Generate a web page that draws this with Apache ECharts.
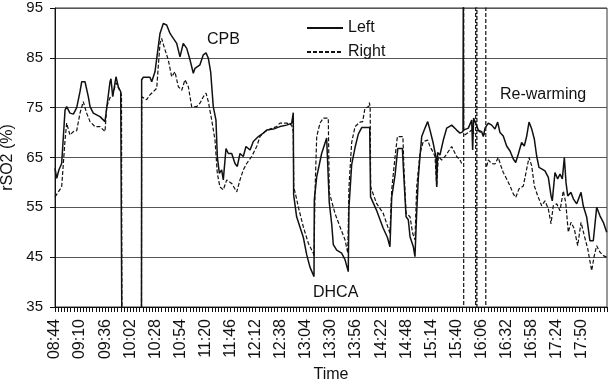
<!DOCTYPE html>
<html>
<head>
<meta charset="utf-8">
<script src="https://cdn.jsdelivr.net/npm/echarts@6/dist/echarts.min.js"></script>
<style>
html,body{margin:0;padding:0;background:#fff;}
#c{width:608px;height:384px;}
</style>
</head>
<body>
<div id="c"></div>
<script>
// Elapsed minutes after 08:44, rSO2 (%)
const tickLabels = ['08:44','09:10','09:36','10:02','10:28','10:54','11:20','11:46','12:12','12:38','13:04','13:30','13:56','14:22','14:48','15:14','15:40','16:06','16:32','16:58','17:24','17:50'];
const legendNames = ['Left', 'Right'];
const annotations = ['CPB', 'DHCA', 'Re-warming'];

const leftReadings = [[0,62.8],[1.8,60.8],[4,62.5],[6.9,63.8],[10.4,74.5],[12.1,75.2],[15.5,73.9],[19,73.7],[22.5,75],[25.9,78.2],[27.7,80.2],[31.1,80.2],[34.5,77.2],[36.3,75.2],[39.7,73.9],[46.6,73.2],[51.8,72.2],[53.6,71.9],[57,80.2],[58,80.8],[59.8,77.2],[63.2,81.2],[65.6,79.2],[68.1,78.2],[68.9,78],[69.3,30],[69.5,null],[89.6,30],[89.8,80.6],[91.5,81.1],[98.4,81.1],[100.2,80.2],[103.6,82.2],[105.4,82.2],[107,87.2],[108.8,89.9],[112.2,91.9],[115.7,91.6],[119.2,89.9],[122.6,88.9],[126.1,87.9],[129.5,85.2],[132.9,87.9],[136.5,86.9],[139.9,84.6],[143.3,81.9],[145.1,82.9],[150.2,83.6],[153.7,85.6],[156.5,86],[158.9,84.9],[161.3,82.2],[164,75.2],[166.8,72.5],[168.2,65.2],[170.3,61.8],[172.7,62.5],[174.4,60.5],[177.2,66.8],[179.6,65.8],[183.1,65.8],[186.5,63.8],[188.9,63.2],[191.7,65.8],[195.1,65.2],[197.9,67.2],[202.1,66.5],[205.5,68.2],[210.7,69.2],[215.8,69.9],[219.4,70.5],[226.2,70.7],[233.1,71.2],[240.1,71.5],[245.3,71.9],[246.9,74],[247.3,57.5],[250.4,53.1],[253.9,51],[257.3,49],[260.8,45.5],[264.2,43],[268.4,41.1],[268.7,56.5],[271.2,61.1],[276.3,65.8],[281.5,68.9],[283.2,68.9],[284.2,56],[286.8,51.5],[288.4,47.5],[291.9,46.4],[297,45.8],[300.5,44.5],[303.9,42.1],[304.6,55],[307.4,63.5],[310.9,67],[314.3,69.7],[317.8,71],[326.1,71],[327,57.1],[333,54.5],[340.1,50.8],[344.4,49],[347.1,47.1],[348.9,57],[352.4,61.5],[355.2,66.8],[360,66.8],[361.1,62.5],[363.8,53.1],[366.1,52.5],[367.9,49.1],[371.3,47.1],[373,45.1],[374.8,54],[376.5,61],[378.2,65.2],[380,69.2],[383.4,70.9],[386.2,72.2],[388.6,70.5],[392,67.8],[394.8,65],[395.5,59.1],[396.5,66],[398.9,65.5],[402.4,68.5],[405.9,70.9],[411.1,71.5],[416.2,70.5],[419.7,69.9],[422.8,70.2],[423.1,100],[423.3,70.5],[424.9,70.5],[428.3,70.9],[431.8,72.5],[432.8,66.5],[433.8,72.9],[435.2,72.9],[438.6,70.5],[442.1,70.2],[443.8,69.2],[445.6,70.9],[447.3,71.2],[449,71.9],[452.5,71.5],[455.9,70.7],[458.7,72.1],[461.1,70],[464.5,69.3],[468,67.3],[471.5,66.3],[474.9,64.7],[477.4,64],[480.1,65.7],[483.5,68],[486.3,67.3],[488.8,69.3],[491.2,72.1],[494,70.7],[496.7,68.7],[499.1,65.3],[501.5,63],[504.3,62.7],[507.7,62.3],[511.2,61],[514,57.3],[515.3,56.3],[518.1,62],[520.9,60.7],[523.3,61.7],[525.7,60.7],[527.8,65],[529.5,60],[531.3,57.3],[534.7,58],[537.1,56.7],[540.6,55.7],[545.1,58],[547.4,55.3],[551,53],[554.3,48.3],[557.8,48.3],[561.3,55],[564.7,53.3],[568.2,52],[571.7,50]];

const rightReadings = [[0,57.1],[2,57.5],[6.9,59.1],[10.4,68.5],[12.1,71.9],[15.5,69.5],[19,70.2],[22.5,70.4],[25.9,73.9],[29.3,76.2],[32.8,73.9],[36.3,72.2],[41.4,71.2],[46.6,71.2],[51.8,70.2],[53.6,75.2],[57,77],[59.8,77.5],[63.2,80],[65.6,79],[68.1,78],[68.9,77.5],[69.3,30],[69.5,null],[89.6,30],[89.8,77.2],[91.5,77],[95,76.6],[98.4,77.6],[101.9,78.2],[105.4,78.9],[107,83.2],[108.8,87.9],[110.5,88.9],[114,86.6],[117.4,84.6],[120.9,81.2],[124.3,82.2],[127.8,79.2],[131.3,78.5],[134.7,80.6],[138.2,79.2],[141.6,75.2],[146.8,75.2],[150.2,75.9],[153.7,77.2],[156.5,77.9],[158.9,76.2],[162.4,72.5],[165.8,68.5],[168.2,61.8],[170.9,59.1],[174.4,58.5],[177.9,60.5],[183.1,59.8],[188.3,58.1],[191.7,60.5],[195.1,62.5],[198.6,63.8],[203.8,65.2],[209,67.2],[212.4,69.2],[217.6,70.2],[222.8,70.7],[229.7,71.2],[233.1,71.9],[240.1,71.9],[245.3,71.5],[246.9,70.2],[247.4,59.1],[250,57],[252.1,55.1],[257.3,51.1],[262.5,47.8],[267.7,45.8],[268.4,45.2],[269.5,58.5],[271.2,69.2],[274.6,71.9],[278,72.9],[283.2,72.9],[284.2,58],[290.1,53.8],[295.3,51.1],[300.5,48.5],[303.4,45.8],[304.6,59],[307.4,68],[310.9,71.2],[316,72.1],[318.8,72.2],[321.2,74.9],[325,75.2],[325.8,76],[326.6,75],[327.1,59.1],[333.2,55.8],[340.1,53.8],[347.1,49.8],[348.9,58.5],[352.4,65.2],[354.8,69.2],[360.5,69.2],[361.5,63.2],[363.8,53.8],[367.9,53.1],[370.6,49.8],[373,48.5],[374.8,59.1],[378.2,65.8],[381.6,68.2],[386.2,68.5],[388.6,67.2],[392,66],[393.8,65.2],[395.5,59.1],[397.2,65.2],[400.7,64.5],[404.1,65.2],[407.6,66.2],[411.1,67.2],[412.8,67.2],[416.2,65.2],[419.7,64.5],[421.4,63.8],[423,null],[423.5,100],[423.5,30],[423.9,null],[424.5,69.5],[428.3,70],[431.8,70.5],[434.5,69.8],[435.2,null],[435.9,100],[435.9,30],[436.3,null],[437.2,30],[437.2,100],[437.4,null],[437.9,70.5],[441,70],[444,69.5],[445.6,70],[445.9,null],[446.4,100],[446.4,30],[446.8,null],[447.3,63.2],[449,64.5],[452.5,63.8],[455.9,63.7],[459.3,65],[462.1,63.3],[464.5,62],[468,60.7],[471.5,59.3],[474.9,57.7],[477.4,57],[480.8,58.7],[485.3,59.3],[488.8,62.7],[491.2,65],[494,63.3],[496.7,59.3],[500.2,57.3],[504.3,55.3],[507.7,56.3],[511.2,54.7],[514,51.7],[516.3,55.3],[519.9,55.7],[523.3,54.3],[526.7,58.3],[529.2,56],[531.9,50],[534.7,52],[538.1,50.7],[541.6,47.3],[545.1,52],[548.5,49.3],[552,46.7],[556.1,42.3],[558.8,45.3],[561.3,47.3],[564.7,46],[568.2,45.3],[571.7,45]];

const FONT = '"Liberation Sans", Arial, sans-serif';
const toData = arr => arr.map(p => [p[0], p[1] === null ? '-' : p[1]]);

const chart = echarts.init(document.getElementById('c'), null, {renderer: 'canvas'});
chart.setOption({
  animation: false,
  backgroundColor: '#fff',
  textStyle: {fontFamily: FONT},
  grid: {left: 55, right: 1, top: 8, bottom: 77, show: true, borderColor: '#333', borderWidth: 1,
         containLabel: false, outerBoundsMode: 'none'},
  legend: {
    data: legendNames,
    orient: 'vertical',
    left: 301,
    top: 15,
    itemWidth: 36,
    itemHeight: 14,
    itemGap: 8,
    itemStyle: {opacity: 0},
    textStyle: {fontSize: 16, color: '#111', fontFamily: FONT}
  },
  xAxis: {
    type: 'value',
    min: 0, max: 572, interval: 26,
    name: 'Time', nameLocation: 'middle', nameGap: 60,
    nameTextStyle: {fontSize: 16, color: '#111', fontFamily: FONT},
    axisLine: {lineStyle: {color: '#111', width: 1}},
    axisTick: {show: true, length: 5, lineStyle: {color: '#111'}},
    minorTick: {show: true, splitNumber: 8, length: 5, lineStyle: {color: '#111'}},
    splitLine: {show: false},
    axisLabel: {
      rotate: 90, fontSize: 16, color: '#111', margin: 12, fontFamily: FONT,
      showMaxLabel: false,
      formatter: v => tickLabels[Math.round(v / 26)] || ''
    }
  },
  yAxis: {
    type: 'value',
    min: 35, max: 95, interval: 10,
    name: 'rSO2 (%)', nameLocation: 'middle', nameGap: 33,
    nameTextStyle: {fontSize: 16, color: '#111', fontFamily: FONT},
    axisLine: {show: true, lineStyle: {color: '#111', width: 1}},
    axisTick: {show: true, length: 5, lineStyle: {color: '#111'}},
    splitLine: {show: true, lineStyle: {color: '#555', width: 1}},
    axisLabel: {fontSize: 15, color: '#111', margin: 12, fontFamily: FONT}
  },
  series: [
    {
      name: legendNames[0], type: 'line', data: toData(leftReadings),
      symbol: 'none', connectNulls: false, clip: true, z: 3,
      lineStyle: {color: '#111', width: 1.5, type: 'solid'},
      itemStyle: {color: '#111'}
    },
    {
      name: legendNames[1], type: 'line', data: toData(rightReadings),
      symbol: 'none', connectNulls: false, clip: true, z: 2,
      lineStyle: {color: '#111', width: 1.2, type: [4, 2]},
      itemStyle: {color: '#111'}
    }
  ],
  graphic: [
    {type: 'text', left: 207, top: 32, style: {text: annotations[0], fontSize: 16, fill: '#111', fontFamily: FONT}},
    {type: 'text', left: 313, top: 285, style: {text: annotations[1], fontSize: 16, fill: '#111', fontFamily: FONT}},
    {type: 'text', left: 500, top: 87, style: {text: annotations[2], fontSize: 16, fill: '#111', fontFamily: FONT}}
  ]
});
</script>
</body>
</html>
